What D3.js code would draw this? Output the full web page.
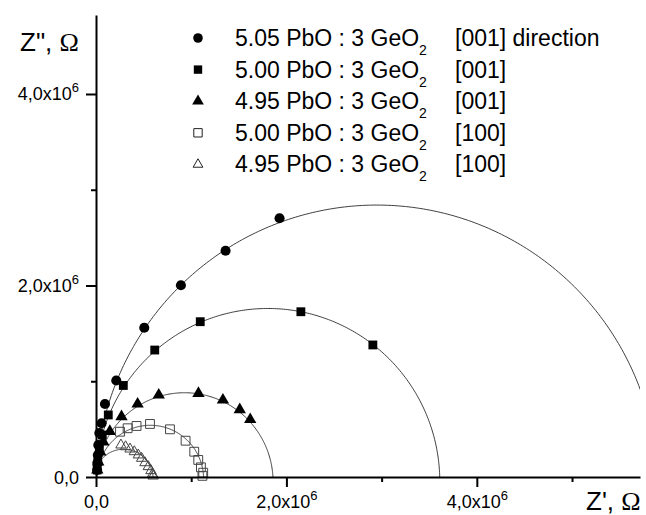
<!DOCTYPE html>
<html>
<head>
<meta charset="utf-8">
<script src="https://cdn.jsdelivr.net/npm/d3@7"></script>
<style>
  body { margin: 0; background: #fff; }
  svg { display: block; font-family: "Liberation Sans", Arial, sans-serif; }
</style>
</head>
<body>
<div id="chart"></div>
<script>
const width = 646, height = 515,
  margin = { top: 15, right: 6, bottom: 38, left: 96 }

/* DATA (Z' and Z'' in units of 10^6 Ohm) */
const zre_505_001 = [1.928, 1.361, 0.892, 0.507, 0.213, 0.094, 0.059, 0.035, 0.024, 0.019, 0.014, 0.012]
const zim_505_001 = [2.702, 2.363, 2.002, 1.559, 1.008, 0.762, 0.561, 0.460, 0.334, 0.230, 0.146, 0.073]

const zre_500_001 = [2.908, 2.152, 1.095, 0.617, 0.287, 0.129, 0.066, 0.035, 0.019, 0.012]
const zim_500_001 = [1.379, 1.726, 1.622, 1.326, 0.956, 0.648, 0.439, 0.282, 0.157, 0.073]

const zre_495_001 = [1.620, 1.510, 1.333, 1.076, 0.659, 0.437, 0.268, 0.145, 0.077, 0.045, 0.024, 0.014]
const zim_495_001 = [0.600, 0.703, 0.804, 0.874, 0.856, 0.762, 0.630, 0.477, 0.366, 0.261, 0.157, 0.073]

const zre_500_100 = [0.252, 0.332, 0.426, 0.567, 0.777, 0.941, 1.032, 1.074, 1.102, 1.126, 1.118]
const zim_500_100 = [0.473, 0.509, 0.533, 0.554, 0.498, 0.379, 0.264, 0.178, 0.101, 0.045, 0.012]

const zre_495_100 = [0.262, 0.311, 0.357, 0.402, 0.444, 0.479, 0.514, 0.549, 0.577, 0.594, 0.600]
const zim_495_100 = [0.334, 0.316, 0.292, 0.264, 0.230, 0.195, 0.149, 0.108, 0.066, 0.031, 0.010]

// semicircle fits: centre (cx, cy) and radius
const fitCx = [2.95, 1.805, 0.93, 0.57, 0.29]
const fitCy = [-0.11, -0.046, -0.05, -0.02, -0.02]
const fitR  = [2.95, 1.806, 0.93, 0.56, 0.31]

const legendMain = ["5.05 PbO : 3 GeO", "5.00 PbO : 3 GeO", "4.95 PbO : 3 GeO", "5.00 PbO : 3 GeO", "4.95 PbO : 3 GeO"]
const legendDir = ["[001] direction", "[001]", "[001]", "[100]", "[100]"]

const majorTicks = [0, 2, 4]
const minorTicksX = [1, 3, 5]
const minorTicksY = [1, 3]

const data = [
  { re: zre_505_001, im: zim_505_001 },
  { re: zre_500_001, im: zim_500_001 },
  { re: zre_495_001, im: zim_495_001 },
  { re: zre_500_100, im: zim_500_100 },
  { re: zre_495_100, im: zim_495_100 }
].map((s, i) => ({
  i: i,
  points: s.re.map((x, j) => ({ x: x, y: s.im[j] })),
  cx: fitCx[i], cy: fitCy[i], r: fitR[i]
}))

/* MARKER STYLES */
const symbolType = [d3.symbolCircle, d3.symbolSquare, d3.symbolTriangle, d3.symbolSquare, d3.symbolTriangle]
const symbolSize = [80, 78, 66, 78, 46]
const filled = [true, true, true, false, false]

/* SCALES */
const xScale = d3.scaleLinear()
  .domain([0, 5.714])
  .range([margin.left, width - margin.right])

const yScale = d3.scaleLinear()
  .domain([0, 4.825])
  .range([height - margin.bottom, margin.top])

/* SVG */
const svg = d3.select("#chart")
  .append("svg")
  .attr("width", width)
  .attr("height", height)

svg.append("clipPath")
  .attr("id", "plot-clip")
  .append("rect")
  .attr("x", margin.left)
  .attr("y", margin.top)
  .attr("width", width - margin.right - margin.left)
  .attr("height", height - margin.bottom - margin.top)

// fitted semicircles
const line = d3.line()
  .x(d => xScale(d[0]))
  .y(d => yScale(d[1]))

const arcPoints = function(d) {
  const t0 = Math.asin(-d.cy / d.r), t1 = Math.PI - t0
  return d3.range(0, 241).map(k => {
    const t = t0 + (t1 - t0) * k / 240
    return [d.cx + d.r * Math.cos(t), d.cy + d.r * Math.sin(t)]
  })
}

svg.append("g")
  .attr("clip-path", "url(#plot-clip)")
  .selectAll("path")
  .data(data)
  .join("path")
  .attr("d", d => line(arcPoints(d)))
  .attr("fill", "none")
  .attr("stroke", "#2a2a2a")
  .attr("stroke-width", 0.9)

// markers
const symbol = d3.symbol()

svg.append("g")
  .selectAll("g")
  .data(data)
  .join("g")
  .each(function(s) {
    d3.select(this).selectAll("path")
      .data(s.points)
      .join("path")
      .attr("transform", d => `translate(${xScale(d.x)}, ${yScale(d.y)})`)
      .attr("d", symbol.type(symbolType[s.i]).size(symbolSize[s.i]))
      .attr("fill", filled[s.i] ? "#000" : "none")
      .attr("stroke", filled[s.i] ? "none" : "#444")
      .attr("stroke-width", 1)
  })

/* AXES */
const tickLabel = function(sel) {
  sel.each(function(d) {
    const t = d3.select(this).text(null)
    if (d === 0) {
      t.text("0,0")
    } else {
      t.append("tspan").text(d3.format(".1f")(d).replace(".", ",") + "x10")
      t.append("tspan").attr("dy", -8).attr("font-size", "13px").text("6")
    }
  })
}

const xAxisGroup = svg.append("g")
  .attr("transform", `translate(0, ${yScale(0)})`)
  .call(d3.axisBottom(xScale).tickValues(majorTicks).tickSize(10).tickSizeOuter(0))

xAxisGroup.selectAll(".tick text")
  .attr("y", 31).attr("dy", 0)
  .attr("fill", "#000").attr("font-size", "18px")
  .attr("font-family", "Liberation Sans, Arial, sans-serif")
  .call(tickLabel)

xAxisGroup.append("g")
  .call(d3.axisBottom(xScale).tickValues(minorTicksX).tickSize(5).tickFormat(""))
  .select(".domain").remove()

const yAxisGroup = svg.append("g")
  .attr("transform", `translate(${xScale(0)}, 0)`)
  .call(d3.axisLeft(yScale).tickValues(majorTicks).tickSize(10).tickSizeOuter(0))

yAxisGroup.selectAll(".tick text")
  .attr("x", -17).attr("dy", 6)
  .attr("fill", "#000").attr("font-size", "18px")
  .attr("font-family", "Liberation Sans, Arial, sans-serif")
  .call(tickLabel)

yAxisGroup.append("g")
  .call(d3.axisLeft(yScale).tickValues(minorTicksY).tickSize(5).tickFormat(""))
  .select(".domain").remove()

svg.selectAll(".domain").attr("stroke", "#000").attr("stroke-width", 2)
svg.selectAll(".tick line").attr("stroke", "#000").attr("stroke-width", 2)

// axis titles
const yTitle = svg.append("text")
  .attr("x", 20).attr("y", 51)
  .attr("font-size", "26px")
yTitle.append("tspan").text("Z\", ")
yTitle.append("tspan").attr("font-family", "Liberation Serif, serif").text("Ω")

const xTitle = svg.append("text")
  .attr("x", 586).attr("y", 510)
  .attr("font-size", "26px")
xTitle.append("tspan").text("Z', ")
xTitle.append("tspan").attr("font-family", "Liberation Serif, serif").text("Ω")

/* LEGEND */
const legend = svg.append("g")
  .selectAll("g")
  .data(legendMain)
  .join("g")
  .attr("transform", (d, i) => `translate(198, ${38 + i * 31.6})`)

legend.append("path")
  .attr("d", (d, i) => symbol.type(symbolType[i]).size(symbolSize[i] * 0.9)())
  .attr("fill", (d, i) => filled[i] ? "#000" : "none")
  .attr("stroke", (d, i) => filled[i] ? "none" : "#222")
  .attr("stroke-width", 1)

const legendText = legend.append("text")
  .attr("x", 37).attr("y", 8)
  .attr("font-size", "23px")
legendText.append("tspan").text(d => d)
legendText.append("tspan").attr("dy", 9).attr("font-size", "14px").text("2")

legend.append("text")
  .attr("x", 257).attr("y", 8)
  .attr("font-size", "23px")
  .text((d, i) => legendDir[i])
</script>
</body>
</html>
